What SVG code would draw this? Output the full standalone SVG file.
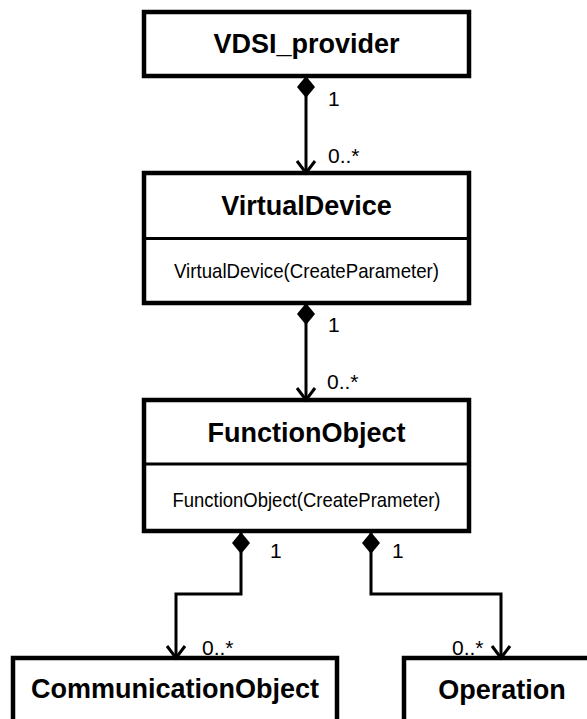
<svg xmlns="http://www.w3.org/2000/svg" width="587" height="719" viewBox="0 0 587 719">
  <defs>
    <marker id="diamond" markerUnits="userSpaceOnUse" markerWidth="24" markerHeight="20" refX="0" refY="9" orient="auto" overflow="visible">
      <path d="M0,9 L11,0 L22,9 L11,18 Z" fill="#000"/>
    </marker>
    <marker id="arrow" markerUnits="userSpaceOnUse" markerWidth="16" markerHeight="22" refX="13" refY="9" orient="auto" overflow="visible">
      <path d="M1,0 L13,9 L1,18" fill="none" stroke="#000" stroke-width="3"/>
    </marker>
  </defs>
  <style>
    .box { fill: #fff; stroke: #000; stroke-width: 4.5; }
    .div { stroke: #000; stroke-width: 3; }
    .title { font-family: "Liberation Sans", Arial, sans-serif; font-weight: bold; font-size: 27px; fill: #000; text-anchor: middle; }
    .meth { font-family: "Liberation Sans", Arial, sans-serif; font-size: 21px; fill: #000; text-anchor: middle; }
    .lbl { font-family: "Liberation Sans", Arial, sans-serif; font-size: 21px; fill: #000; }
    .conn { fill: none; stroke: #000; stroke-width: 3; marker-start: url(#diamond); marker-end: url(#arrow); }
  </style>
  <rect width="587" height="719" fill="#fff"/>

  <g id="VDSI_provider">
    <rect class="box" x="144" y="12" width="325" height="64"/>
    <text class="title" x="306.5" y="53">VDSI_provider</text>
  </g>

  <g id="VirtualDevice">
    <rect class="box" x="144" y="173" width="325" height="130"/>
    <line class="div" x1="144" y1="238.5" x2="469" y2="238.5"/>
    <text class="title" x="306.5" y="215">VirtualDevice</text>
    <text class="meth" x="306.5" y="278" textLength="265" lengthAdjust="spacingAndGlyphs">VirtualDevice(CreateParameter)</text>
  </g>

  <g id="FunctionObject">
    <rect class="box" x="144" y="400" width="325" height="131"/>
    <line class="div" x1="144" y1="464" x2="469" y2="464"/>
    <text class="title" x="306.5" y="442">FunctionObject</text>
    <text class="meth" x="306.5" y="507" textLength="268" lengthAdjust="spacingAndGlyphs">FunctionObject(CreatePrameter)</text>
  </g>

  <g id="CommunicationObject">
    <rect class="box" x="13" y="658" width="324" height="90"/>
    <text class="title" x="175" y="698">CommunicationObject</text>
  </g>

  <g id="Operation">
    <rect class="box" x="404" y="658" width="200" height="90"/>
    <text class="title" x="502" y="699">Operation</text>
  </g>

  <g id="connectors">
    <path class="conn" d="M306,76 L306,173"/>
    <path class="conn" d="M306,303 L306,400"/>
    <path class="conn" d="M241,532 L241,594 L176,594 L176,658"/>
    <path class="conn" d="M371,532 L371,594 L501,594 L501,658"/>
  </g>

  <g id="labels">
    <text class="lbl" x="328" y="106">1</text>
    <text class="lbl" x="328" y="163">0..*</text>
    <text class="lbl" x="328" y="332">1</text>
    <text class="lbl" x="327" y="389">0..*</text>
    <text class="lbl" x="270" y="558">1</text>
    <text class="lbl" x="392" y="558">1</text>
    <text class="lbl" x="202" y="655">0..*</text>
    <text class="lbl" x="452" y="655">0..*</text>
  </g>
</svg>
